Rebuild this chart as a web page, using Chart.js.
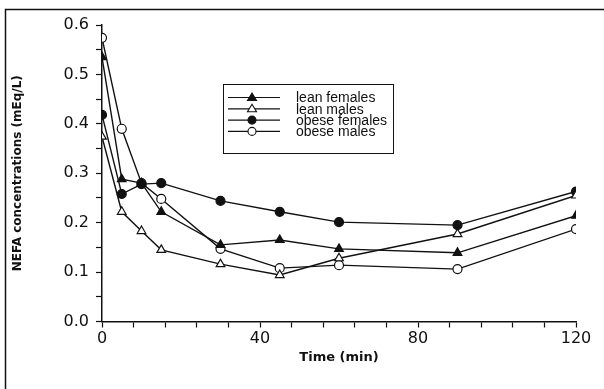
<!DOCTYPE html>
<html>
<head>
<meta charset="utf-8">
<script src="https://cdn.jsdelivr.net/npm/chart.js@4"></script>
<style>
  html, body { margin: 0; padding: 0; background: #fff; }
  #wrap { width: 604px; height: 389px; position: relative; }
</style>
</head>
<body>
<div id="wrap"><canvas id="nefa" width="604" height="389"></canvas></div>
<script>
const TIMES = [0, 5, 10, 15, 30, 45, 60, 90, 120];
const LEAN_FEMALES = [0.535, 0.288, 0.28, 0.222, 0.155, 0.165, 0.147, 0.139, 0.214];
const LEAN_MALES = [0.374, 0.222, 0.183, 0.145, 0.116, 0.094, 0.128, 0.177, 0.255];
const OBESE_FEMALES = [0.418, 0.258, 0.278, 0.28, 0.244, 0.222, 0.201, 0.195, 0.263];
const OBESE_MALES = [0.574, 0.39, 0.28, 0.248, 0.147, 0.108, 0.114, 0.106, 0.187];

const TICK_FONT = { family: "'DejaVu Sans', sans-serif", size: 16 };
const INK = '#111';

function series(label, values, style, filled) {
  return {
    label,
    data: values.map((v, i) => ({ x: TIMES[i], y: v })),
    borderColor: INK,
    borderWidth: 1.4,
    pointStyle: style,
    pointRadius: style === 'triangle' ? 5 : 4.5,
    pointBorderWidth: 1.2,
    pointBackgroundColor: filled ? INK : '#fff',
    pointBorderColor: INK,
    tension: 0,
  };
}

// frame lines (the figure is cropped, only top and left edges show)
const framePlugin = {
  id: 'frame',
  beforeDraw(chart) {
    const c = chart.ctx;
    c.save();
    c.fillStyle = '#fff';
    c.fillRect(0, 0, chart.width, chart.height);
    c.strokeStyle = INK;
    c.lineWidth = 1.5;
    c.beginPath();
    c.moveTo(5.5, chart.height);
    c.lineTo(5.5, 9.5);
    c.lineTo(chart.width, 9.5);
    c.stroke();
    c.restore();
  },
};

// boxed legend sitting inside the plot
const boxLegend = {
  id: 'boxLegend',
  afterDatasetsDraw(chart) {
    const c = chart.ctx;
    const x0 = 223.5, y0 = 84.5, w = 170, h = 69;
    c.save();
    c.fillStyle = '#fff';
    c.fillRect(x0, y0, w, h);
    c.strokeStyle = INK;
    c.lineWidth = 1;
    c.strokeRect(x0, y0, w, h);
    c.font = "14px 'Liberation Sans', Arial, sans-serif";
    c.textBaseline = 'middle';
    chart.data.datasets.forEach((ds, i) => {
      const y = 97.5 + i * 11.3;
      c.strokeStyle = INK;
      c.lineWidth = 1.2;
      c.beginPath();
      c.moveTo(228, y);
      c.lineTo(280, y);
      c.stroke();
      c.fillStyle = ds.pointBackgroundColor;
      c.lineWidth = 1.1;
      c.beginPath();
      if (ds.pointStyle === 'triangle') {
        c.moveTo(252, y - 4.5);
        c.lineTo(256.5, y + 3);
        c.lineTo(247.5, y + 3);
        c.closePath();
      } else {
        c.arc(252, y, 4, 0, Math.PI * 2);
      }
      c.fill();
      c.stroke();
      c.fillStyle = INK;
      c.fillText(ds.label, 296, y + 1);
    });
    c.restore();
  },
};

new Chart(document.getElementById('nefa'), {
  type: 'line',
  data: {
    datasets: [
      series('lean females', LEAN_FEMALES, 'triangle', true),
      series('lean males', LEAN_MALES, 'triangle', false),
      series('obese females', OBESE_FEMALES, 'circle', true),
      series('obese males', OBESE_MALES, 'circle', false),
    ],
  },
  options: {
    responsive: false,
    animation: false,
    layout: { padding: { top: 25, right: 28, bottom: 0, left: 0 } },
    plugins: { legend: { display: false }, tooltip: { enabled: false } },
    scales: {
      x: {
        type: 'linear',
        min: 0, max: 120,
        afterFit: s => { s.height = 67.5; },
        border: { color: INK, width: 1.5 },
        grid: { drawOnChartArea: false, color: INK, tickLength: 6, tickWidth: 1.2 },
        ticks: {
          stepSize: 8, autoSkip: false, maxRotation: 0, color: INK, font: TICK_FONT, padding: 2,
          callback: v => (v % 40 === 0 ? String(v) : ''),
        },
        title: {
          display: true, text: 'Time (min)', color: INK,
          font: { family: "'DejaVu Sans', sans-serif", size: 13, weight: 'bold' },
          padding: { top: 2, bottom: 24 },
        },
      },
      y: {
        min: 0, max: 0.6,
        afterFit: s => { s.width = 102; },
        border: { color: INK, width: 1.5 },
        grid: { drawOnChartArea: false, color: INK, tickLength: 6, tickWidth: 1.2 },
        ticks: {
          stepSize: 0.05, autoSkip: false, color: INK, font: TICK_FONT, padding: 7,
          callback: v => (Math.round(v * 100) % 10 === 0 ? v.toFixed(1) : ''),
        },
        title: {
          display: true, text: 'NEFA concentrations (mEq/L)', color: INK,
          font: { family: "'DejaVu Sans', sans-serif", size: 12, weight: 'bold' },
          padding: { top: 11, bottom: 0 },
        },
      },
    },
  },
  plugins: [framePlugin, boxLegend],
});
</script>
</body>
</html>
